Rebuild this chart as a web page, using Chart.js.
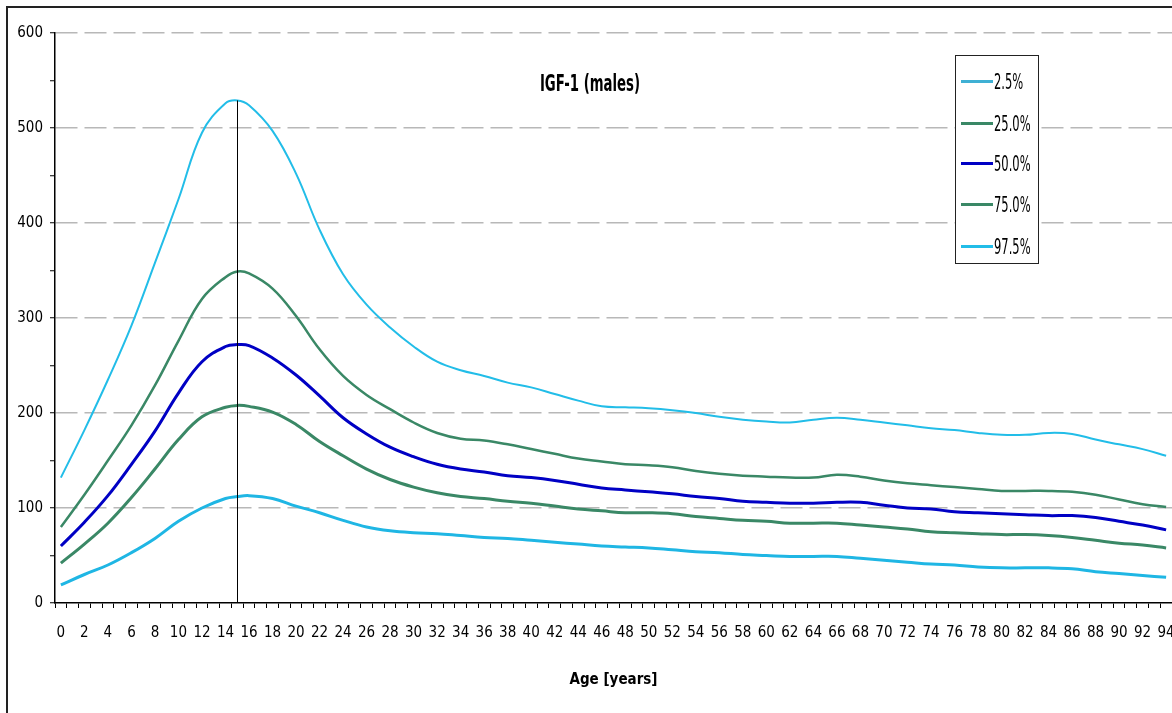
<!DOCTYPE html>
<html>
<head>
<meta charset="utf-8">
<script src="https://cdn.jsdelivr.net/npm/chart.js@4.4.1/dist/chart.umd.min.js"></script>
<style>
    body { margin: 0; background: #fff; }
    #wrap { position: relative; width: 1172px; height: 713px; overflow: hidden; }
    #frame { position: absolute; left: 6px; top: 6px; width: 1200px; height: 800px;
             border-left: 2px solid #222; border-top: 2px solid #222; }
    #title { position: absolute; left: 490px; top: 72px; width: 200px; text-align: center;
             font: bold 18px 'Liberation Sans Narrow', 'DejaVu Sans Condensed', sans-serif;
             transform: scale(0.82, 1.3); color: #000; white-space: nowrap; }
    #legend { position: absolute; left: 955px; top: 55px; width: 82px; height: 207px;
              border: 1.5px solid #222; background: #fff; }
    .item { position: absolute; left: 4px; height: 20px; }
    .item span.swatch { position: absolute; left: 1px; top: 9px; width: 32px; height: 3px; }
    .item span.txt { position: absolute; left: 34px; top: 1px; color: #000; white-space: nowrap;
                     font: 16px 'Liberation Sans Narrow', 'DejaVu Sans Condensed', sans-serif;
                     transform: scale(0.8, 1.3); transform-origin: left center; }
</style>
</head>
<body>
<div id="wrap">
    <canvas id="igfChart" width="1172" height="713"></canvas>
    <div id="frame"></div>
    <div id="title">IGF-1 (males)</div>
    <div id="legend"></div>
</div>
<script>
// idades (anos) e percentis
const ages = [0, 2, 4, 6, 8, 10, 12, 14, 15, 16, 18, 20, 22, 24, 26, 28, 30, 32, 34, 36, 38, 40, 42, 44, 46,
              48, 50, 52, 54, 56, 58, 60, 62, 64, 66, 68, 70, 72, 74, 76, 78, 80, 82, 84, 86, 88, 90, 92, 94];

const p025 = [19, 30, 40, 53, 68, 86, 100, 110, 112, 113, 110, 102, 95, 87, 80, 76, 74, 73, 71, 69, 68, 66, 64, 62, 60,
              59, 58, 56, 54, 53, 51, 50, 49, 49, 49, 47, 45, 43, 41, 40, 38, 37, 37, 37, 36, 33, 31, 29, 27];
const p250 = [42, 62, 84, 111, 141, 172, 196, 206, 208, 207, 201, 188, 170, 155, 141, 130, 122, 116, 112, 110, 107, 105, 102, 99, 97,
              95, 95, 94, 91, 89, 87, 86, 84, 84, 84, 82, 80, 78, 75, 74, 73, 72, 72, 71, 69, 66, 63, 61, 58];
const p500 = [60, 85, 113, 146, 181, 221, 254, 270, 272, 271, 258, 240, 218, 195, 178, 164, 154, 146, 141, 138, 134, 132, 129, 125, 121,
              119, 117, 115, 112, 110, 107, 106, 105, 105, 106, 106, 103, 100, 99, 96, 95, 94, 93, 92, 92, 90, 86, 82, 77];
const p750 = [80, 114, 150, 187, 229, 276, 320, 343, 349, 347, 331, 302, 267, 239, 219, 204, 190, 179, 173, 171, 167, 162, 157, 152, 149,
              146, 145, 143, 139, 136, 134, 133, 132, 132, 135, 133, 129, 126, 124, 122, 120, 118, 118, 118, 117, 114, 109, 104, 101];
const p975 = [132, 182, 235, 292, 358, 425, 495, 526, 529, 524, 497, 452, 393, 346, 314, 290, 270, 254, 245, 239, 232, 227, 220, 213, 207,
              206, 205, 203, 200, 196, 193, 191, 190, 193, 195, 193, 190, 187, 184, 182, 179, 177, 177, 179, 178, 172, 167, 162, 155];

const ageLabels = [];
for (let a = 0; a <= 94; a++) ageLabels.push(String(a));

const seriesNames = ["2.5%", "25.0%", "50.0%", "75.0%", "97.5%"];
const seriesData = [p025, p250, p500, p750, p975];
const seriesColors = ["#1fb6e4", "#3a8866", "#0000c4", "#3a8866", "#22bde8"];
const seriesWidths = [3, 3, 3, 2.5, 2];
const legendColors = ["#3fb0d4", "#3a8866", "#0000c4", "#3a8866", "#22bde8"];

const FONT = "'Liberation Sans Narrow', 'DejaVu Sans Condensed', sans-serif";

function toPoints(values) {
    return values.map((v, i) => ({ x: String(ages[i]), y: v }));
}

// linha vertical aos 15 anos, do zero ate ao pico do 97.5%
const peakLine = {
    id: 'peakLine',
    afterDatasetsDraw(chart) {
        const xs = chart.scales.x, ys = chart.scales.y;
        const idx = ages.indexOf(15);
        const x = Math.round(xs.getPixelForValue(ageLabels.indexOf('15'))) + 0.5;
        const ctx = chart.ctx;
        ctx.save();
        ctx.strokeStyle = '#000';
        ctx.lineWidth = 1;
        ctx.beginPath();
        ctx.moveTo(x, ys.getPixelForValue(0));
        ctx.lineTo(x, ys.getPixelForValue(p975[idx]));
        ctx.stroke();
        ctx.restore();
    }
};

function renderLegend() {
    const box = document.getElementById('legend');
    const tops = [15, 57, 97, 138, 180];
    seriesNames.forEach((name, i) => {
        const row = document.createElement('div');
        row.className = 'item';
        row.style.top = tops[i] + 'px';
        row.innerHTML = `<span class="swatch" style="background:${legendColors[i]}"></span><span class="txt">${name}</span>`;
        box.appendChild(row);
    });
}

function initChart() {
    const ctx = document.getElementById('igfChart').getContext('2d');
    const datasets = seriesNames.map((name, i) => ({
        label: name,
        data: toPoints(seriesData[i]),
        borderColor: seriesColors[i],
        borderWidth: seriesWidths[i],
        pointRadius: 0,
        fill: false,
        tension: 0.4,
        spanGaps: true
    }));

    new Chart(ctx, {
        type: 'line',
        data: { labels: ageLabels, datasets: datasets },
        options: {
            responsive: false,
            animation: false,
            layout: { padding: { top: 33, left: 0, right: 0, bottom: 0 } },
            plugins: { legend: { display: false }, tooltip: { enabled: false } },
            scales: {
                x: {
                    type: 'category',
                    offset: true,
                    grid: { offset: true, drawOnChartArea: false, drawTicks: true, tickLength: 5, tickColor: '#000', tickWidth: 1 },
                    border: { display: true, color: '#000', width: 1.5 },
                    ticks: {
                        autoSkip: false, maxRotation: 0, minRotation: 0, padding: 16,
                        color: '#000', font: { family: FONT, size: 15 },
                        callback: function (v, i) { return i % 2 === 0 ? this.getLabelForValue(v) : ''; }
                    },
                    title: { display: true, text: 'Age [years]', color: '#000',
                             font: { family: FONT, size: 15, weight: 'bold' }, padding: { top: 0, bottom: 24 } },
                    afterFit: s => { s.height = 110; s.paddingLeft = 0; s.paddingRight = 0; }
                },
                y: {
                    min: 0, max: 600,
                    grid: {
                        color: c => (c.tick && c.tick.value % 100 === 0 && c.tick.value > 0) ? '#b8b8b8' : 'rgba(0,0,0,0)',
                        lineWidth: 1.5, tickLength: 5, tickColor: '#000', tickWidth: 1
                    },
                    border: { display: true, color: '#000', width: 1.5, dash: [22, 7] },
                    ticks: {
                        stepSize: 50, padding: 7, color: '#000', font: { family: FONT, size: 15 },
                        callback: v => v % 100 === 0 ? v : ''
                    },
                    afterFit: s => { s.width = 55; s.paddingTop = 0; s.paddingBottom = 0; }
                }
            }
        },
        plugins: [peakLine]
    });
}

renderLegend();
initChart();
</script>
</body>
</html>
